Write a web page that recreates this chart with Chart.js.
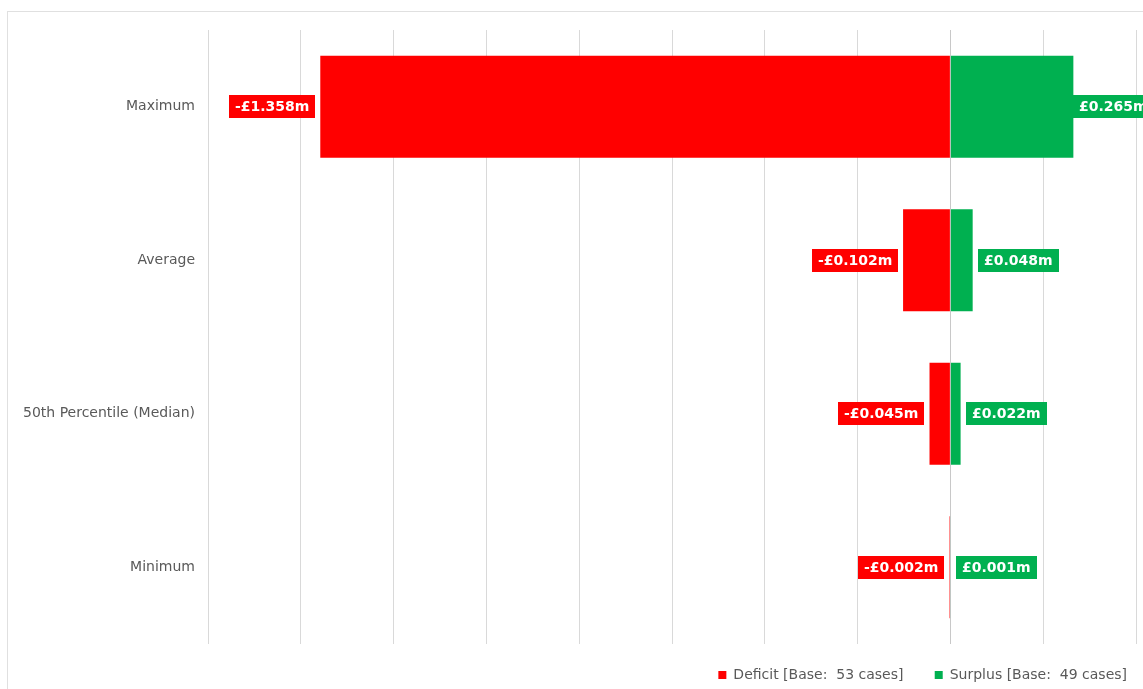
<!DOCTYPE html>
<html>
<head>
<meta charset="utf-8">
<script src="https://cdn.jsdelivr.net/npm/chart.js@4.4.1/dist/chart.umd.min.js"></script>
<style>
    html, body { margin: 0; padding: 0; background: #fff; overflow: hidden; }
    #frame {
        position: absolute; left: 7px; top: 11px;
        width: 1200px; height: 720px;
        border: 1px solid #e0e0e0;
    }
    #wrap { position: absolute; left: 0; top: 0; width: 1143px; height: 692px; }
</style>
</head>
<body>
<div id="frame"></div>
<div id="wrap"><canvas id="chart"></canvas></div>
<script>
    // Chart data
    const CATEGORIES = ['Maximum', 'Average', '50th Percentile (Median)', 'Minimum'];
    const DEFICIT = [-1.358, -0.102, -0.045, -0.002];
    const SURPLUS = [0.265, 0.048, 0.022, 0.001];
    const SERIES_LABELS = ['Deficit [Base:  53 cases]', 'Surplus [Base:  49 cases]'];

    const RED = '#ff0000';
    const GREEN = '#00b050';
    const FONT = "'DejaVu Sans', Verdana, sans-serif";

    /**
     * Formats a value in millions as a currency label, e.g. -£1.358m
     */
    function formatMoney(v) {
        const sign = v < 0 ? '-' : '';
        return sign + '£' + Math.abs(v).toFixed(3) + 'm';
    }

    // Draws boxed value labels at the end of each bar
    const valueLabels = {
        id: 'valueLabels',
        afterDatasetsDraw(chart) {
            const ctx = chart.ctx;
            ctx.save();
            ctx.font = 'bold 14px ' + FONT;
            ctx.textBaseline = 'middle';
            chart.data.datasets.forEach((ds, di) => {
                const meta = chart.getDatasetMeta(di);
                meta.data.forEach((bar, i) => {
                    const value = ds.data[i];
                    const text = formatMoney(value);
                    const tw = ctx.measureText(text).width;
                    const padX = 6;
                    const boxW = tw + padX * 2;
                    const boxH = 23;
                    let left;
                    if (value < 0) {
                        left = bar.x - 5 - boxW;
                    } else {
                        // pull back onto the bar end if it would run off the canvas
                        left = bar.x + 5;
                        if (left + boxW > chart.width) left = bar.x;
                    }
                    const top = bar.y - boxH / 2;
                    ctx.fillStyle = ds.backgroundColor;
                    ctx.fillRect(Math.round(left), Math.round(top), Math.round(boxW), boxH);
                    ctx.fillStyle = '#ffffff';
                    ctx.textAlign = 'left';
                    ctx.fillText(text, Math.round(left + padX), bar.y + 1);
                });
            });
            ctx.restore();
        }
    };

    const ctx = document.getElementById('chart').getContext('2d');

    new Chart(ctx, {
        type: 'bar',
        data: {
            labels: CATEGORIES,
            datasets: [
                {
                    label: SERIES_LABELS[0],
                    data: DEFICIT,
                    backgroundColor: RED,
                    borderWidth: 0,
                    barPercentage: 0.665,
                    categoryPercentage: 1
                },
                {
                    label: SERIES_LABELS[1],
                    data: SURPLUS,
                    backgroundColor: GREEN,
                    borderWidth: 0,
                    barPercentage: 0.665,
                    categoryPercentage: 1
                }
            ]
        },
        options: {
            indexAxis: 'y',
            responsive: true,
            maintainAspectRatio: false,
            animation: false,
            layout: {
                padding: { top: 30, right: 7, left: 0, bottom: 0 }
            },
            plugins: {
                legend: {
                    position: 'bottom',
                    align: 'end',
                    labels: {
                        color: '#595959',
                        font: { family: FONT, size: 14 },
                        boxWidth: 8,
                        boxHeight: 8,
                        padding: 9,
                        // extra room after the first entry, as in the original
                        generateLabels(chart) {
                            const items = Chart.defaults.plugins.legend.labels.generateLabels(chart);
                            items.forEach((it, i) => {
                                if (i < items.length - 1) it.text = it.text + '     ';
                            });
                            return items;
                        }
                    }
                },
                tooltip: { enabled: false }
            },
            scales: {
                x: {
                    stacked: true,
                    min: -1.6,
                    max: 0.4,
                    ticks: { display: false, stepSize: 0.2 },
                    grid: {
                        color: (c) => (c.tick && Math.abs(c.tick.value) < 1e-9) ? '#c8c8c8' : '#d9d9d9',
                        drawTicks: false
                    },
                    border: { display: false },
                    afterFit(scale) { scale.height = 15; }
                },
                y: {
                    stacked: true,
                    ticks: {
                        color: '#595959',
                        font: { family: FONT, size: 14 },
                        padding: 13
                    },
                    grid: { display: false, drawTicks: false },
                    border: { display: false },
                    afterFit(scale) { scale.width = 208; }
                }
            }
        },
        plugins: [valueLabels]
    });
</script>
</body>
</html>
